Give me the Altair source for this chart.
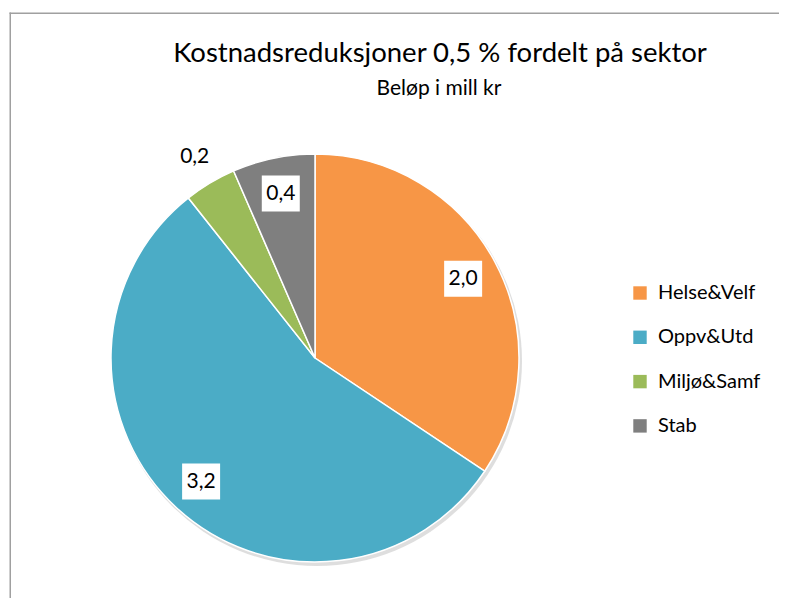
import altair as alt
import pandas as pd

sectors = ["Helse&Velf", "Oppv&Utd", "Miljø&Samf", "Stab"]
values = [2.0, 3.2, 0.24, 0.38]
labels = ["2,0", "3,2", "0,2", "0,4"]
boxed = [True, True, False, True]
colors = ["#F79646", "#4BACC6", "#9BBB59", "#7F7F7F"]

title_text = "Kostnadsreduksjoner 0,5 % fordelt på sektor"
subtitle_text = "Beløp i mill kr"

df = pd.DataFrame({
    "sector": sectors,
    "value": values,
    "label": labels,
    "boxed": boxed,
    "idx": list(range(len(sectors))),
})

W, H = 771, 590
CX, CY, R = 307, 350, 204
FONT = "Lato"

base = alt.Chart(df)

color = alt.Color(
    "sector:N",
    scale=alt.Scale(domain=sectors, range=colors),
    sort=sectors,
    legend=alt.Legend(
        title=None,
        orient="none",
        legendX=622,
        legendY=275,
        symbolType="square",
        symbolSize=180,
        symbolStrokeWidth=0,
        labelFontSize=20,
        labelFont=FONT,
        labelColor="#000000",
        rowPadding=24.3,
        labelOffset=8,
    ),
)

shadow = alt.Chart(pd.DataFrame({"a": [0]})).mark_arc(
    theta=0, theta2=6.2832, outerRadius=R + 1, color="#c8c8c8", opacity=0.6
).encode(x=alt.value(CX + 2), y=alt.value(CY + 3))

pie = base.mark_arc(outerRadius=R, stroke="white", strokeWidth=1.5).encode(
    theta=alt.Theta("value:Q", stack=True),
    color=color,
    order=alt.Order("idx:Q"),
    x=alt.value(CX),
    y=alt.value(CY),
)

pos = (
    base.transform_window(cum="sum(value)", sort=[alt.SortField("idx")])
    .transform_joinaggregate(total="sum(value)")
    .transform_calculate(
        mid="(datum.cum - datum.value/2) / datum.total * 2 * PI",
        r="datum.boxed ? 168 : 234",
    )
    .transform_calculate(
        lx=f"{CX} + datum.r * sin(datum.mid)",
        ly=f"{CY} - datum.r * cos(datum.mid)",
    )
    .transform_calculate(
        bx1="datum.lx - 19", bx2="datum.lx + 19",
        by1="datum.ly - 18", by2="datum.ly + 18",
    )
)

boxes = pos.transform_filter("datum.boxed").mark_rect(color="white").encode(
    x=alt.X("bx1:Q", scale=None, axis=None),
    x2="bx2:Q",
    y=alt.Y("by1:Q", scale=None, axis=None),
    y2="by2:Q",
)

texts = pos.mark_text(fontSize=21, font=FONT, color="#000000", baseline="middle", align="center").encode(
    x=alt.X("lx:Q", scale=None, axis=None),
    y=alt.Y("ly:Q", scale=None, axis=None),
    text="label:N",
)

title = alt.Chart(pd.DataFrame({"t": [title_text]})).mark_text(
    fontSize=27.5, font=FONT, color="#000000", align="center", baseline="alphabetic"
).encode(x=alt.value(432), y=alt.value(54), text="t:N")

subtitle = alt.Chart(pd.DataFrame({"t": [subtitle_text]})).mark_text(
    fontSize=21, font=FONT, color="#000000", align="center", baseline="alphabetic"
).encode(x=alt.value(431), y=alt.value(87), text="t:N")

frame_top = alt.Chart(pd.DataFrame({"a": [0]})).mark_rect(color="#a0a0a0").encode(
    x=alt.value(1.5), x2=alt.value(W + 30), y=alt.value(4.5), y2=alt.value(6)
)
frame_left = alt.Chart(pd.DataFrame({"a": [0]})).mark_rect(color="#a0a0a0").encode(
    x=alt.value(1.5), x2=alt.value(3), y=alt.value(4.5), y2=alt.value(H + 30)
)

chart = alt.layer(
    frame_top, frame_left, shadow, pie, boxes, texts, title, subtitle
).properties(
    width=W, height=H, padding=0,
    autosize=alt.AutoSizeParams(type="none"),
).configure_view(stroke=None)

chart.save("out.html", embed_options={"renderer": "svg", "actions": False})
